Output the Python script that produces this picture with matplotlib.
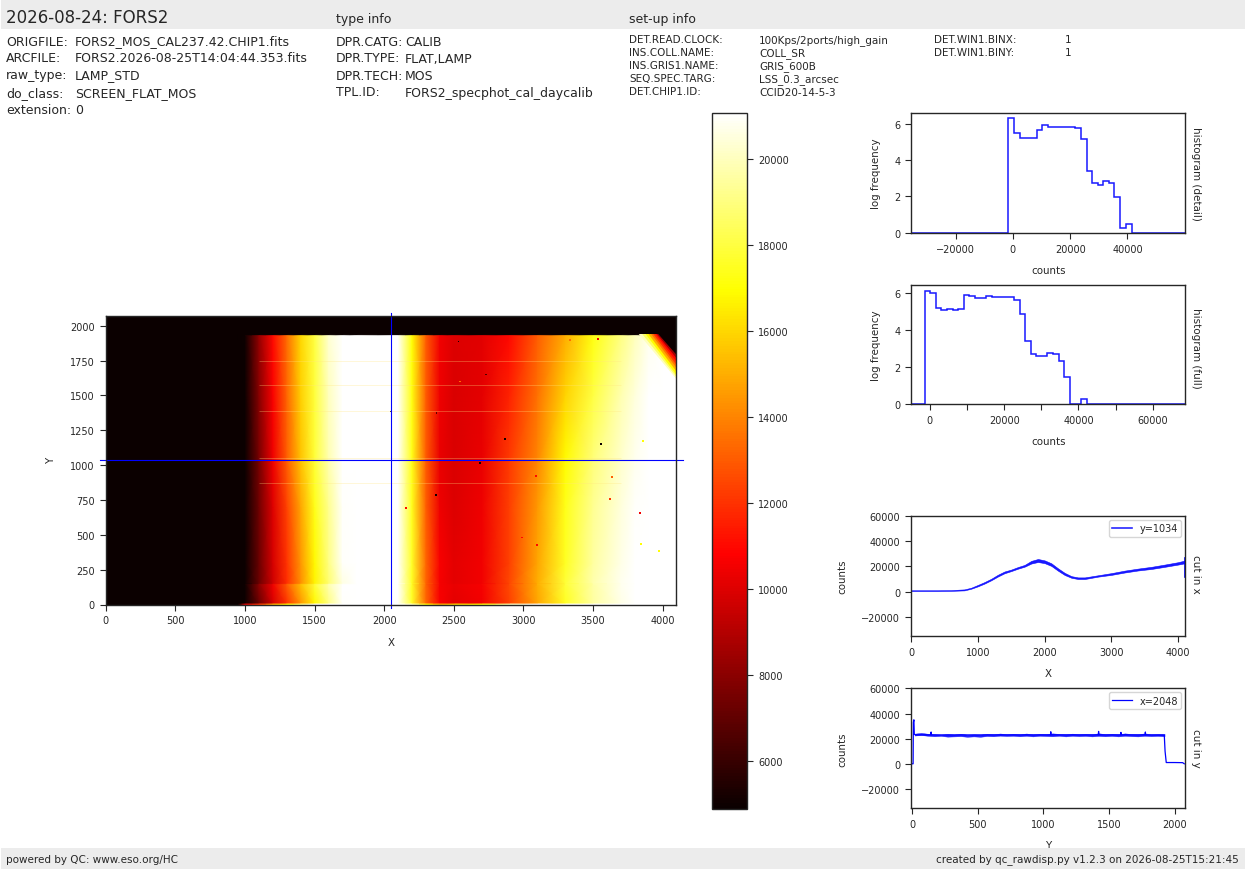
import numpy as np
import matplotlib
matplotlib.use("Agg")
import matplotlib.pyplot as plt
from matplotlib.colors import Normalize
from matplotlib.patches import Rectangle

W, H = 1245, 870

# header info
title = "2026-08-24: FORS2"
file_labels = ["ORIGFILE:", "ARCFILE:", "raw_type:", "do_class:", "extension:"]
file_values = ["FORS2_MOS_CAL237.42.CHIP1.fits", "FORS2.2026-08-25T14:04:44.353.fits",
               "LAMP_STD", "SCREEN_FLAT_MOS", "0"]
type_labels = ["DPR.CATG:", "DPR.TYPE:", "DPR.TECH:", "TPL.ID:"]
type_values = ["CALIB", "FLAT,LAMP", "MOS", "FORS2_specphot_cal_daycalib"]
setup_labels = ["DET.READ.CLOCK:", "INS.COLL.NAME:", "INS.GRIS1.NAME:", "SEQ.SPEC.TARG:", "DET.CHIP1.ID:"]
setup_values = ["100Kps/2ports/high_gain", "COLL_SR", "GRIS_600B", "LSS_0.3_arcsec", "CCID20-14-5-3"]
win_labels = ["DET.WIN1.BINX:", "DET.WIN1.BINY:"]
win_values = ["1", "1"]

# image at a coarse set of nodes
img_x = [0, 950, 1000, 1100, 1200, 1300, 1400, 1500, 1600, 1700, 1800, 2100, 2200, 2300,
         2400, 2500, 2700, 2900, 3100, 3300, 3500, 3700, 3800, 3900, 4000, 4096]
img_y = [0, 8, 12, 145, 155, 300, 700, 1034, 1500, 1932, 1938, 2070]
row_y0 = [1000, 4000, 10000, 12000, 15000, 17000, 19000, 21000, 22000, 23000, 23500, 22000, 20000, 17000,
          15000, 16000, 17000, 20000, 22000, 23000, 23000, 23000, 23000, 23000, 23000, 23000]
row_y12 = [1000, 3000, 4500, 7200, 9800, 12000, 14400, 16800, 19000, 21000, 23200, 22000, 17600, 13300,
           10700, 10200, 10500, 12400, 14800, 17500, 19500, 20700, 21200, 21800, 22500, 23500]
row_y145 = [1000, 3000, 5000, 8000, 10500, 13000, 15400, 17800, 19800, 21400, 23000, 22000, 17500, 13200,
            10600, 10300, 10600, 12600, 15000, 17800, 19600, 20800, 21300, 21900, 22600, 23600]
row_y155 = [1000, 3000, 4500, 7200, 9600, 11900, 14200, 16700, 18700, 20600, 23000, 22000, 17500, 13200,
            10600, 10200, 10500, 12500, 15000, 17800, 19700, 20800, 21400, 22000, 22800, 24000]
row_y700 = [1000, 3000, 4500, 7300, 10000, 12400, 14800, 17300, 19200, 21000, 23200, 21900, 17400, 13100,
            10400, 10000, 10400, 12300, 14500, 17300, 19300, 20500, 21000, 21600, 22500, 23800]
row_y1034 = [1000, 3000, 4500, 7500, 10400, 13000, 15500, 17800, 19800, 21500, 23500, 21800, 17300, 13000,
             10300, 9900, 10300, 12200, 14000, 16900, 18900, 20200, 20800, 21300, 22300, 23500]
row_y1500 = [1000, 3000, 4800, 7900, 10700, 13200, 15800, 17900, 20000, 21800, 23200, 21700, 17200, 13000,
             10400, 9900, 10200, 11600, 13500, 15900, 18000, 19800, 20500, 21100, 22000, 22800]
row_y1932 = [1000, 3000, 5000, 8200, 11000, 13400, 16000, 18000, 20300, 22000, 23000, 21500, 17000, 13000,
             10500, 10000, 10100, 11000, 13000, 15000, 17200, 19000, 20000, 20800, 21500, 22000]
row_black = [1000] * 26

# vignetted top right corner: each edge runs from (x_top, corner_top) to (4096, y_right)
corner_top = 1950
corner_x_top = [3820, 3845, 3870, 3890, 3910, 3925, 3940, 3950, 3960]
corner_y_right = [1620, 1635, 1650, 1675, 1700, 1722, 1745, 1770, 1795]
corner_vals = [20000, 18500, 16900, 15000, 13500, 12000, 10900, 8500, 4000]

# single hot and cold pixels: x, y, counts
pix_x = [2533, 2733, 2545, 2045, 2376, 2866, 3559, 3861, 2688, 3088, 3637, 2371, 2159, 3623, 3837,
         2988, 3095, 3844, 3973, 3533, 3333]
pix_y = [1887, 1650, 1600, 1384, 1376, 1189, 1153, 1175, 1017, 923, 916, 784, 693, 758, 657,
         480, 427, 436, 384, 1904, 1897]
pix_v = [5000, 6500, 13500, 5000, 7000, 5000, 5000, 17000, 5000, 11000, 13000, 5000, 11000, 12000, 10500,
         11000, 11000, 17000, 17000, 10500, 13500]
streak_y = [1750, 1575, 1390, 1050, 870]

cut_row = 1034
cut_col = 2048

# histogram (detail): bin edges and log frequency
det_edges = [-35500, -1630, 230, 2450, 8280, 10260, 12130, 14100, 21800, 23790, 25890, 27750, 29620,
             31600, 33580, 35450, 37430, 39410, 41630, 60100]
det_vals = [0, 6.3, 5.5, 5.2, 5.65, 5.9, 5.8, 5.83, 5.75, 5.15, 3.4, 2.72, 2.65, 2.82, 2.72, 1.95, 0.28, 0.5, 0]

# histogram (full)
full_edges = [-5000, -1440, 90, 1620, 2960, 4580, 6110, 7630, 9160, 10600, 12120, 15090, 16610, 22630,
              24250, 25590, 27120, 28560, 31610, 33050, 34660, 36100, 37720, 40590, 42210, 68700]
full_vals = [0, 6.1, 6.0, 5.2, 5.05, 5.1, 5.05, 5.1, 5.85, 5.8, 5.7, 5.8, 5.75, 5.6, 4.85, 3.4, 2.7, 2.6,
             2.75, 2.7, 2.35, 1.45, 0, 0.27, 0]

# cut in x, with the spread of the noisy line
cutx_x = [0, 200, 400, 600, 800, 900, 1000, 1100, 1200, 1300, 1400, 1500, 1600, 1700, 1800, 1900, 2000,
          2100, 2200, 2300, 2400, 2500, 2600, 2800, 3000, 3200, 3400, 3600, 3800, 4000, 4090]
cutx_lo = [500, 500, 500, 600, 1000, 2300, 4200, 6400, 9000, 12000, 14600, 16300, 18200, 19800, 22300,
           23500, 22600, 20400, 16600, 13200, 11000, 10000, 10000, 11900, 13300, 15200, 16800, 18000, 19700,
           21500, 22400]
cutx_hi = [1100, 1100, 1100, 1200, 1800, 3100, 5300, 7600, 10200, 13400, 16000, 17500, 19500, 21200, 24400,
           25900, 24800, 22500, 18500, 14900, 12300, 11300, 11300, 13000, 14700, 16700, 18300, 19700, 21500,
           23400, 24600]
cutx_end_x = [4094, 4094]
cutx_end_y = [11500, 26500]

# cut in y: the noisy plateau as a band, the edges and spikes as a line
cuty_band_x = [20, 70, 120, 170, 220, 270, 320, 370, 420, 470, 520, 570, 620, 670, 720, 770, 820, 870, 920,
               970, 1020, 1070, 1120, 1170, 1220, 1270, 1320, 1370, 1420, 1470, 1520, 1570, 1620, 1670, 1720,
               1770, 1820, 1870, 1922]
cuty_lo = [22500, 22900, 22300, 21900, 22200, 21600, 21800, 22000, 21500, 21800, 21500, 22100, 21900, 22400,
           22100, 22300, 21900, 22300, 21800, 22300, 22100, 21900, 22300, 21800, 22300, 22000, 22200, 21800,
           22200, 21900, 22200, 21800, 22300, 22000, 21800, 22300, 22000, 22200, 21900]
cuty_hi = [24000, 24600, 23900, 23500, 23200, 23600, 23300, 23900, 23100, 23400, 23200, 23900, 23500, 24100,
           23600, 23900, 23500, 24100, 23400, 23900, 23700, 24200, 23800, 23500, 24000, 23600, 23800, 23500,
           24300, 23600, 23900, 23500, 24200, 23700, 23500, 24200, 23600, 23900, 23800]
cuty_x = [0, 8, 10, 14, 17, 25, 143, 145, 147, 1054, 1056, 1058, 1418, 1420, 1422, 1588, 1590, 1592,
          1774, 1776, 1778, 1920, 1926, 1935, 2000, 2060, 2072]
cuty_y = [0, 0, 33000, 35000, 23500, 23000, 23000, 25300, 23000, 23000, 25500, 23000, 23000, 25800, 23000,
          23000, 25000, 23000, 23000, 25300, 23000, 22800, 10000, 1000, 1000, 900, 0]

vmin, vmax = 4890, 21080

plt.rcParams["font.family"] = "DejaVu Sans"
plt.rcParams["text.color"] = ".15"
plt.rcParams["axes.edgecolor"] = ".15"
plt.rcParams["axes.labelcolor"] = ".15"
plt.rcParams["xtick.color"] = ".15"
plt.rcParams["ytick.color"] = ".15"
plt.rcParams["xtick.labelsize"] = 7
plt.rcParams["ytick.labelsize"] = 7
plt.rcParams["axes.labelsize"] = 7.4
plt.rcParams["axes.labelpad"] = 8
plt.rcParams["axes.linewidth"] = 1.0
plt.rcParams["xtick.major.size"] = 4.4
plt.rcParams["ytick.major.size"] = 4.4
plt.rcParams["xtick.major.width"] = 0.8
plt.rcParams["ytick.major.width"] = 0.8


def axes_px(fig, left, top, right, bottom):
    return fig.add_axes([left / W, 1 - bottom / H, (right - left) / W, (bottom - top) / H])


def put(fig, x, y, s, size=9, **kw):
    fig.text(x / W, 1 - y / H, s, fontsize=size, va="center", **kw)


fig = plt.figure(figsize=(W / 100, H / 100), dpi=100)

# grey bands
fig.add_artist(Rectangle((1 / W, 1 - 29.5 / H), 1244 / W, 29 / H, transform=fig.transFigure, color="#ececec", lw=0))
fig.add_artist(Rectangle((1 / W, 0.5 / H), 1244 / W, 20.5 / H, transform=fig.transFigure, color="#ececec", lw=0))

put(fig, 6, 18, title, size=12)
put(fig, 336, 19, "type info", size=9)
put(fig, 629, 19, "set-up info", size=9)
put(fig, 6, 860, "powered by QC: www.eso.org/HC", size=7.5)
put(fig, 1239, 860, "created by qc_rawdisp.py v1.2.3 on 2026-08-25T15:21:45", size=7.5, ha="right")

file_rows = [42, 58, 76, 94, 110]
for lab, val, y in zip(file_labels, file_values, file_rows):
    put(fig, 6, y, lab)
    put(fig, 75, y, val)
type_rows = [42, 59, 77, 93]
for lab, val, y in zip(type_labels, type_values, type_rows):
    put(fig, 336, y, lab)
    put(fig, 405, y, val)
setup_rows = [40, 53, 66, 79, 92]
for lab, val, y in zip(setup_labels, setup_values, setup_rows):
    put(fig, 629, y, lab, size=7.5)
    put(fig, 759, y + 1, val, size=7.5)
for lab, val, y in zip(win_labels, win_values, setup_rows):
    put(fig, 934, y, lab, size=7.5)
    put(fig, 1065, y, val, size=7.5)

# main image
ax = axes_px(fig, 105.5, 317, 676, 605.5)
Z = np.array([row_y0, row_y0, row_y12, row_y145, row_y155, row_y12, row_y700, row_y1034, row_y1500,
              row_y1932, row_black, row_black], dtype=float)
norm = Normalize(vmin, vmax)
cmap = plt.get_cmap("hot")
mesh = ax.pcolormesh(img_x, img_y, Z, cmap=cmap, norm=norm, shading="gouraud", rasterized=True)
ax.hlines(streak_y, 1100, 3700, color="#ffe680", lw=0.6, alpha=0.35)
for x_top, y_right, val in zip(corner_x_top, corner_y_right, corner_vals):
    ax.fill_between([x_top, 4096], [corner_top, y_right], [corner_top, corner_top], color=cmap(norm(val)), lw=0)
# keep the black strip above the illuminated area
ax.fill_between([3700, 4096], img_y[-2], img_y[-1], color=cmap(norm(1000)), lw=0)
ax.scatter(pix_x, pix_y, c=pix_v, cmap=cmap, norm=norm, s=1.6, marker="s", linewidths=0)
ax.plot([-40, 4145], [cut_row, cut_row], color="blue", lw=0.8, clip_on=False)
ax.plot([cut_col, cut_col], [-28, 2090], color="blue", lw=0.8, clip_on=False)
ax.set_xlim(-2, 4096)
ax.set_ylim(0, 2070)
ax.set_xticks([0, 500, 1000, 1500, 2000, 2500, 3000, 3500, 4000])
ax.set_yticks([0, 250, 500, 750, 1000, 1250, 1500, 1750, 2000])
ax.set_xlabel("X")
ax.set_ylabel("Y", labelpad=10)

# colorbar
cax = axes_px(fig, 712, 113.5, 747, 809.5)
cb = fig.colorbar(mesh, cax=cax)
cb.set_ticks([6000, 8000, 10000, 12000, 14000, 16000, 18000, 20000])
cb.ax.tick_params(labelsize=7)

# histograms
ax1 = axes_px(fig, 911.3, 113.7, 1185, 233.7)
ax1.stairs(det_vals, det_edges, color="blue", lw=1.1, alpha=0.9)
ax1.set_xlim(-35500, 60100)
ax1.set_ylim(0, 6.6)
ax1.set_xticks([-20000, 0, 20000, 40000])
ax1.set_yticks([0, 2, 4, 6])
ax1.set_xlabel("counts")
ax1.set_ylabel("log frequency", labelpad=9.5)
put(fig, 1196, 174, "histogram (detail)", size=7.5, rotation=270, ha="center")

ax2 = axes_px(fig, 911.3, 285.7, 1185, 405.4)
ax2.stairs(full_vals, full_edges, color="blue", lw=1.1, alpha=0.9)
ax2.set_xlim(-5000, 68700)
ax2.set_ylim(0, 6.43)
ax2.set_xticks([0, 10000, 20000, 30000, 40000, 50000, 60000])
ax2.set_xticklabels(["0", "", "20000", "", "40000", "", "60000"])
ax2.set_yticks([0, 2, 4, 6])
ax2.set_xlabel("counts")
ax2.set_ylabel("log frequency", labelpad=9.5)
put(fig, 1196, 348, "histogram (full)", size=7.5, rotation=270, ha="center")

# cuts
ax3 = axes_px(fig, 911, 517, 1185.3, 637.4)
ax3.fill_between(cutx_x, cutx_lo, cutx_hi, color="blue", lw=0.4, alpha=0.9)
ax3.plot(cutx_end_x, cutx_end_y, color="blue", lw=1.2)
ax3.plot([], [], color="blue", lw=1.2, alpha=0.85, label="y=1034")
ax3.set_xlim(0, 4105)
ax3.set_ylim(-35500, 60000)
ax3.set_xticks([0, 1000, 2000, 3000, 4000])
ax3.set_yticks([-20000, 0, 20000, 40000, 60000])
ax3.set_xlabel("X")
ax3.set_ylabel("counts", labelpad=10)
ax3.legend(loc="upper right", fontsize=7, borderaxespad=0.4, handlelength=2, borderpad=0.35)
put(fig, 1196, 574, "cut in x", size=7.5, rotation=270, ha="center")

ax4 = axes_px(fig, 911, 689.4, 1185.3, 809.4)
ax4.fill_between(cuty_band_x, cuty_lo, cuty_hi, color="blue", lw=0.3, alpha=0.85)
ax4.plot(cuty_x, cuty_y, color="blue", lw=0.9, label="x=2048")
ax4.set_xlim(-8, 2080)
ax4.set_ylim(-35500, 60000)
ax4.set_xticks([0, 500, 1000, 1500, 2000])
ax4.set_yticks([-20000, 0, 20000, 40000, 60000])
ax4.set_xlabel("Y")
ax4.set_ylabel("counts", labelpad=10)
ax4.legend(loc="upper right", fontsize=7, borderaxespad=0.4, handlelength=2, borderpad=0.35)
put(fig, 1196, 748, "cut in y", size=7.5, rotation=270, ha="center")

fig.savefig("out.png", dpi=100)
